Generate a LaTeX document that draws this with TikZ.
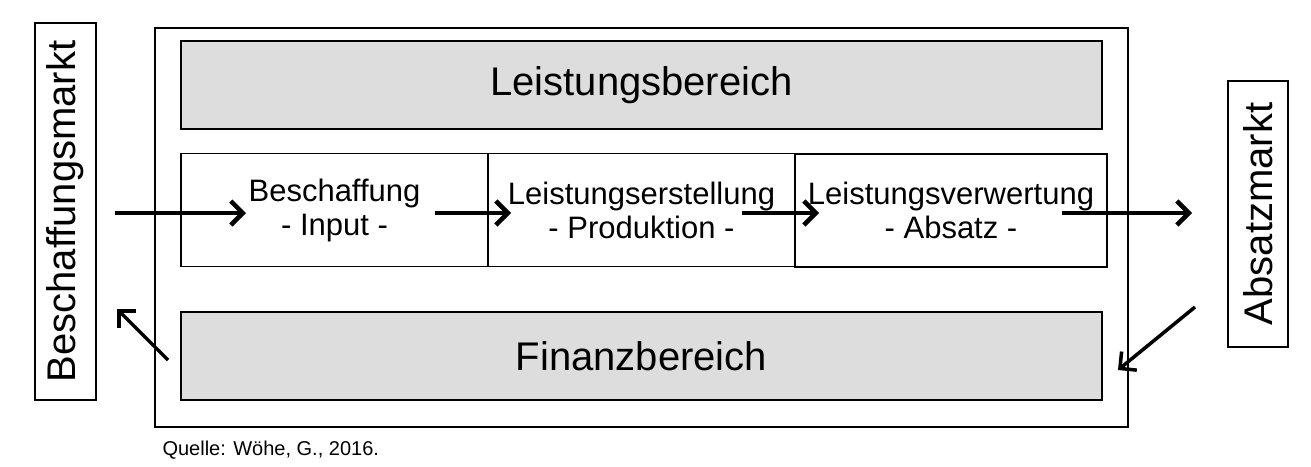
\documentclass[tikz,border=0pt]{standalone}
\usepackage{fontspec}
\setmainfont{Liberation Sans}
\usetikzlibrary{arrows.meta}
\definecolor{hellgrau}{RGB}{221,221,221}

\begin{document}
\begin{tikzpicture}[x=1pt,y=-1pt,
  kasten/.style={draw, line width=1.5pt, inner sep=0pt, outer sep=0pt},
  bereich/.style={kasten, fill=hellgrau, minimum width=921pt, minimum height=88pt, font=\fontsize{40}{48}\selectfont},
  stufe/.style={kasten, minimum height=113pt, align=center, font=\fontsize{31}{34}\selectfont},
  markt/.style={kasten, rotate=90, font=\fontsize{40}{48}\selectfont},
  fluss/.style={line width=4.5pt, -{Straight Barb[length=12pt,width=24pt]}}]
\useasboundingbox (0,0) rectangle (1311,466);
% Rahmen Unternehmen
\node [kasten, minimum width=973pt, minimum height=399pt] (unternehmen) at (641.5,227.5) {};
\node [bereich] (leistung) at (641.5,85) {Leistungsbereich};
\node [bereich] (finanz) at (641.5,356) {Finanzbereich};
% Stufen
\node [stufe, minimum width=307pt] (beschaffung) at (334.5,210) {Beschaffung\\- Input -};
\node [stufe, minimum width=307pt] (erstellung) at (641.5,210) {Leistungserstellung\\- Produktion -};
\node [stufe, minimum width=312pt] (verwertung) at (951,210.5) {Leistungsverwertung\\- Absatz -};
% Maerkte
\node [markt, minimum width=377pt, minimum height=61pt] (bmarkt) at (65.5,211.5) {Beschaffungsmarkt};
\node [markt, minimum width=266pt, minimum height=60pt] (amarkt) at (1258,214) {Absatzmarkt};
\node [anchor=base west, font=\fontsize{20}{24}\selectfont] (quelle) at (159,455) {Quelle: Wöhe, G., 2016.};
% Pfeile
\coordinate (e1) at (115,213);  \coordinate (e2) at (246,213);
\coordinate (e3) at (435,213);  \coordinate (e4) at (511,213);
\coordinate (e5) at (742,213);  \coordinate (e6) at (819,213);
\coordinate (e7) at (1062,213); \coordinate (e8) at (1192,213);
\coordinate (g1) at (168,360);  \coordinate (g2) at (117,309);
\coordinate (g3) at (1195,307); \coordinate (g4) at (1118,370);
\draw [fluss] (e1) -- (e2);
\draw [fluss] (e3) -- (e4);
\draw [fluss] (e5) -- (e6);
\draw [fluss] (e7) -- (e8);
\draw [fluss, line width=3.5pt] (g1) -- (g2);
\draw [fluss, line width=3.5pt] (g3) -- (g4);
\end{tikzpicture}
\end{document}
